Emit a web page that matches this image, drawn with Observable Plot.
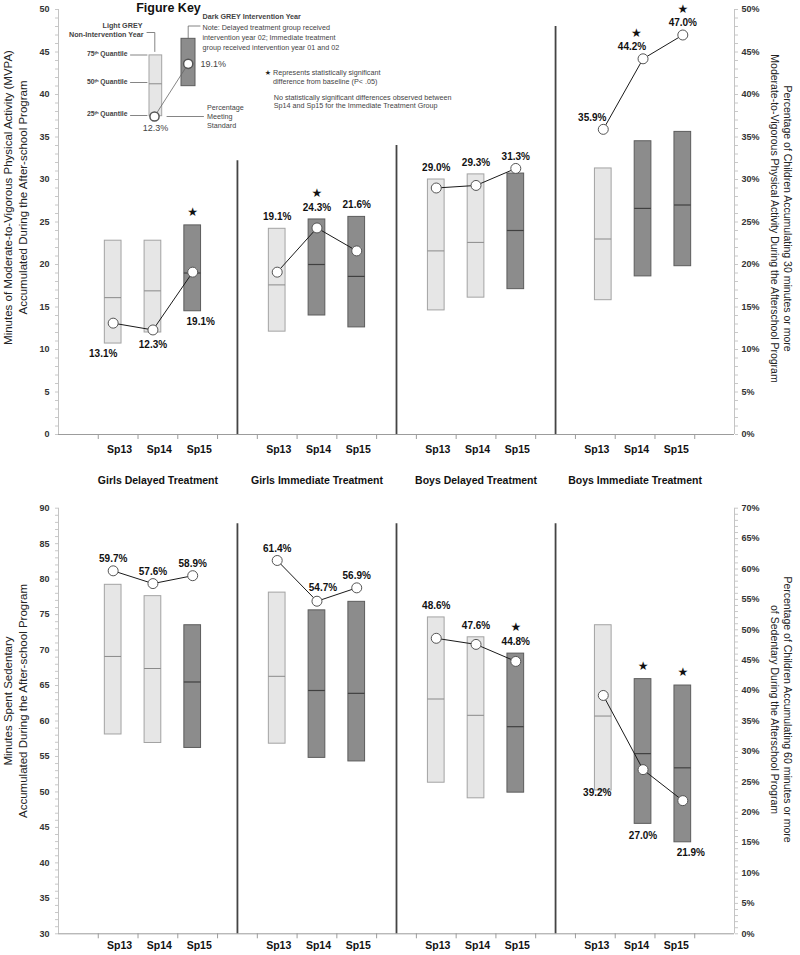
<!DOCTYPE html>
<html>
<head>
<meta charset="utf-8">
<script src="https://cdn.jsdelivr.net/npm/d3@7"></script>
<script src="https://cdn.jsdelivr.net/npm/@observablehq/plot@0.6"></script>
<style>
  html, body { margin: 0; padding: 0; background: #fff; }
  #wrap { position: relative; width: 800px; height: 955px; overflow: hidden; }
  #top, #bot { position: absolute; left: 0; }
  #top { top: 0; }
  #bot { top: 470px; }
  svg { overflow: visible; }
</style>
</head>
<body>
<div id="wrap"><div id="top"></div><div id="bot"></div></div>
<script>
// ---------------- DATA ----------------
const groups = ["Girls Delayed Treatment", "Girls Immediate Treatment", "Boys Delayed Treatment", "Boys Immediate Treatment"];
const seasons = ["Sp13", "Sp14", "Sp15"];
// dark grey = intervention year
const interventionYear = [[false, false, true], [false, true, true], [false, false, true], [false, true, true]];

// Minutes of MVPA (25th, 50th, 75th quantiles) and % meeting 30-min standard
const mvpaQ25 = [[10.7, 12.0, 14.5], [12.1, 14.0, 12.6], [14.6, 16.1, 17.1], [15.8, 18.6, 19.8]];
const mvpaMedian = [[16.1, 16.9, 19.0], [17.6, 20.0, 18.6], [21.6, 22.6, 24.0], [23.0, 26.6, 27.0]];
const mvpaQ75 = [[22.8, 22.8, 24.6], [24.2, 25.3, 25.6], [30.0, 30.6, 30.7], [31.3, 34.5, 35.6]];
const mvpaPctMeeting = [[13.1, 12.3, 19.1], [19.1, 24.3, 21.6], [29.0, 29.3, 31.3], [35.9, 44.2, 47.0]];
const mvpaSignificant = [[0, 0, 1], [0, 1, 0], [0, 0, 0], [0, 1, 1]];
const mvpaLabelPlace = [["below-left", "below", "below-right"], ["above", "above", "above"], ["above", "above", "above"], ["above-left", "above-left", "above"]];

// Minutes sedentary (25th, 50th, 75th quantiles) and % accumulating 60 min or more
const sedQ25 = [[58.1, 56.9, 56.2], [56.8, 54.8, 54.3], [51.3, 49.1, 49.9], [50.2, 45.5, 42.9]];
const sedMedian = [[69.1, 67.4, 65.5], [66.3, 64.3, 63.9], [63.1, 60.8, 59.2], [60.7, 55.4, 53.4]];
const sedQ75 = [[79.2, 77.6, 73.5], [78.1, 75.6, 76.8], [74.6, 71.8, 69.5], [73.5, 65.9, 65.0]];
const sedPct = [[59.7, 57.6, 58.9], [61.4, 54.7, 56.9], [48.6, 47.6, 44.8], [39.2, 27.0, 21.9]];
const sedSignificant = [[0, 0, 0], [0, 0, 0], [0, 0, 1], [0, 1, 1]];
const sedLabelPlace = [["above", "above", "above"], ["above", "above-right", "above"], ["above", "above", "above"], ["under-left", "below", "below-right"]];

// axis ticks
const mvpaTicks = [0, 5, 10, 15, 20, 25, 30, 35, 40, 45, 50];
const mvpaPctTicks = [0, 5, 10, 15, 20, 25, 30, 35, 40, 45, 50];
const sedTicks = [30, 35, 40, 45, 50, 55, 60, 65, 70, 75, 80, 85, 90];
const sedPctTicks = [0, 5, 10, 15, 20, 25, 30, 35, 40, 45, 50, 55, 60, 65, 70];

// panel divider heights (value where each divider line ends)
const mvpaDividerTop = [32.2, 34.0, 48.0];
const sedDividerTop = [87.8, 87.8, 87.8];

// Figure key example values
const keyLight = {q25: 37.45, med: 41.26, q75: 44.6, pct: "12.3%"};
const keyDark = {q25: 40.98, q75: 46.55, pct: "19.1%"};

// ---------------- STYLE ----------------
const FONT = "'Liberation Sans', Arial, Helvetica, sans-serif";
const LIGHT_FILL = "#e6e6e6", LIGHT_STROKE = "#a3a3a3", LIGHT_MED = "#8a8a8a";
const DARK_FILL = "#8c8c8c", DARK_STROKE = "#5c5c5c", DARK_MED = "#404040";
const HALF = 0.21;      // half bar width (slot units)
const NSLOTS = 17;
const PANEL_SHIFT = [-0.125, 0, 0, 0.2]; // small horizontal nudge of each panel's boxes (slot units)

const PLACE = {
  "above": {dx: 0, dy: -12, key: "top"},
  "above-left": {dx: -11, dy: -12, key: "top"},
  "above-right": {dx: 6, dy: -13, key: "top"},
  "below": {dx: 0, dy: 12, key: "q25"},
  "below-left": {dx: -10, dy: 10, key: "q25"},
  "below-right": {dx: 8, dy: 11, key: "q25"},
  "under-left": {dx: -6, dy: 2, key: "q25"}
};

function makeRows(q25, med, q75, pct, sig, place, pctToY) {
  const rows = [];
  groups.forEach((group, gi) => seasons.forEach((season, si) => {
    const py = pctToY(pct[gi][si]);
    rows.push({
      group, season, slot: gi * 4 + si + 1.5, x: gi * 4 + si + 1.5 + PANEL_SHIFT[gi],
      q25: q25[gi][si], med: med[gi][si], q75: q75[gi][si],
      pct: pct[gi][si], py, top: Math.max(q75[gi][si], py),
      sig: !!sig[gi][si], place: place[gi][si], dark: interventionYear[gi][si]
    });
  }));
  return rows;
}

function dataMarks(rows, seasonDy) {
  const light = rows.filter(d => !d.dark), dark = rows.filter(d => d.dark);
  const bx1 = d => d.x - HALF, bx2 = d => d.x + HALF;
  const marks = [
    Plot.rect(light, {x1: bx1, x2: bx2, y1: "q25", y2: "q75", fill: LIGHT_FILL, stroke: LIGHT_STROKE, strokeWidth: 1}),
    Plot.rect(dark, {x1: bx1, x2: bx2, y1: "q25", y2: "q75", fill: DARK_FILL, stroke: DARK_STROKE, strokeWidth: 1}),
    Plot.ruleY(light, {y: "med", x1: bx1, x2: bx2, stroke: LIGHT_MED, strokeWidth: 1}),
    Plot.ruleY(dark, {y: "med", x1: bx1, x2: bx2, stroke: DARK_MED, strokeWidth: 1.2}),
    Plot.line(rows, {x: "x", y: "py", z: "group", stroke: "#1a1a1a", strokeWidth: 1}),
    Plot.dot(rows, {x: "x", y: "py", r: 5, fill: "white", stroke: "#555", strokeWidth: 1}),
    Plot.text(rows, {x: "slot", text: "season", frameAnchor: "bottom", dx: 1.5, dy: seasonDy, fontWeight: "bold", fontSize: 10.5, fill: "#111"})
  ];
  for (const [name, p] of Object.entries(PLACE)) {
    const sub = rows.filter(d => d.place === name);
    if (!sub.length) continue;
    marks.push(Plot.text(sub, {x: "x", y: p.key, text: d => d.pct.toFixed(1) + "%", dx: p.dx, dy: p.dy, fontWeight: "bold", fontSize: 10, fill: "#111"}));
    const stars = sub.filter(d => d.sig);
    if (stars.length) marks.push(Plot.text(stars, {
      x: "x", y: "top", text: () => "★",
      dx: p.key === "top" ? p.dx * 0.6 : 0, dy: p.key === "top" ? p.dy - 14 : -13,
      fontSize: 12, fontFamily: "DejaVu Sans", fill: "#111"
    }));
  }
  return marks;
}

function frameMarks(y0, y1, ticks, pctTicks, pctToY, dividerTop) {
  const minor = d3.range(y0, y1 + 0.001, 1);
  const pctMinor = d3.range(0, d3.max(pctTicks) + 0.001, 1).map(pctToY);
  const pctPos = pctTicks.map(pctToY);
  const dividers = [1, 2, 3].map((k, i) => ({x: k * 4 + 0.5, top: dividerTop[i]}));
  return [
    Plot.ruleX([0, NSLOTS], {y1: y0, y2: y1, stroke: "#c4c4c4"}),
    Plot.ruleY([y0], {x1: 0, x2: NSLOTS, stroke: "#9c9c9c"}),
    Plot.axisX({ticks: d3.range(1, NSLOTS), tickSize: 5, tickFormat: () => "", color: "#9c9c9c", label: null}),
    Plot.axisY({ticks: minor, tickSize: 3, tickFormat: () => "", color: "#c8c8c8", label: null}),
    Plot.axisY({ticks, tickSize: 0, tickPadding: 9, fontWeight: "bold", fontSize: 9, color: "#333", label: null}),
    Plot.axisY({anchor: "right", ticks: pctMinor, tickSize: 3, tickFormat: () => "", color: "#c8c8c8", label: null}),
    Plot.axisY({anchor: "right", ticks: pctPos, tickSize: 0, tickPadding: 7,
      tickFormat: v => pctTicks[pctPos.findIndex(t => Math.abs(t - v) < 1e-6)] + "%",
      fontWeight: "bold", fontSize: 9, color: "#333", label: null}),
    Plot.ruleX(dividers, {x: "x", y1: y0, y2: "top", stroke: "#444", strokeWidth: 1.8})
  ];
}

// ---------------- TOP CHART (MVPA) ----------------
const mvpaToY = p => p;
const mvpaRows = makeRows(mvpaQ25, mvpaMedian, mvpaQ75, mvpaPctMeeting, mvpaSignificant, mvpaLabelPlace, mvpaToY);

// key helpers: pixel layout of the key inside the top frame
const SW = 676 / NSLOTS;
const kx = px => (px - 58) / SW;
const ky = py => (434 - py) / 8.5;
const KEYC = "#444";
function keyText(str, px, py, o = {}) {
  return Plot.text([str], {x: kx(px), y: ky(py), text: d => d, fontSize: 7.2, fill: KEYC, ...o});
}
function keyPath(points) {
  return Plot.line(points.map(([a, b]) => ({x: kx(a), y: ky(b)})), {x: "x", y: "y", stroke: "#666", strokeWidth: 0.8});
}
const keyMarks = [
  keyText("Figure Key", 168, 7, {fontWeight: "bold", fontSize: 12.5, fill: "#111"}),
  Plot.rect([keyLight], {x1: kx(149), x2: kx(161.7), y1: "q25", y2: "q75", fill: LIGHT_FILL, stroke: LIGHT_STROKE}),
  Plot.ruleY([keyLight], {y: "med", x1: kx(149), x2: kx(161.7), stroke: LIGHT_MED}),
  Plot.rect([keyDark], {x1: kx(181), x2: kx(195), y1: "q25", y2: "q75", fill: DARK_FILL, stroke: DARK_STROKE}),
  keyPath([[154, 116], [187.7, 63.3]]),
  Plot.dot([{x: kx(154), y: ky(116)}, {x: kx(187.7), y: ky(63.3)}], {x: "x", y: "y", r: 4.6, fill: "white", stroke: "#555"}),
  keyText(keyLight.pct, 155, 127.5, {fontSize: 9}),
  keyText(keyDark.pct, 200, 63.5, {fontSize: 9, textAnchor: "start"}),
  keyText("Light GREY", 142, 25, {textAnchor: "end", fontWeight: "bold"}),
  keyText("Non-Intervention Year", 143, 34, {textAnchor: "end", fontWeight: "bold"}),
  keyPath([[146.5, 32], [154.3, 32], [154.3, 51]]),
  keyText("75ᵗʰ Quantile", 127, 53.5, {textAnchor: "end", fontWeight: "bold", fontSize: 6.8}),
  keyText("50ᵗʰ Quantile", 127, 81.7, {textAnchor: "end", fontWeight: "bold", fontSize: 6.8}),
  keyText("25ᵗʰ Quantile", 127, 113.5, {textAnchor: "end", fontWeight: "bold", fontSize: 6.8}),
  keyPath([[130, 54.5], [146.5, 54.5]]),
  keyPath([[130, 82], [146.5, 82]]),
  keyPath([[130, 115], [146.5, 115]]),
  keyPath([[166.5, 116], [203, 116]]),
  keyText("Percentage\nMeeting\nStandard", 206.5, 115.7, {textAnchor: "start", lineHeight: 1.2}),
  keyText("Dark GREY Intervention Year", 202, 15.7, {textAnchor: "start", fontWeight: "bold"}),
  keyPath([[187.7, 38], [187.7, 25.5], [199.5, 25.5]]),
  keyText("Note: Delayed treatment group received\nintervention year 02; Immediate treatment\ngroup received intervention year 01 and 02", 202, 36, {textAnchor: "start", lineHeight: 1.42}),
  keyText("★", 267.5, 72, {fontFamily: "DejaVu Sans", fontSize: 7, fill: "#222"}),
  keyText("Represents statistically significant\ndifference from baseline (P< .05)", 272.5, 76.3, {textAnchor: "start", lineHeight: 1.2}),
  keyText("No statistically significant differences observed between\nSp14 and Sp15 for the Immediate Treatment Group", 273.3, 100.8, {textAnchor: "start", lineHeight: 1.15})
];

const topPlot = Plot.plot({
  width: 800, height: 470,
  marginTop: 9, marginBottom: 36, marginLeft: 58, marginRight: 66,
  x: {domain: [0, NSLOTS]},
  y: {domain: [0, 50]},
  style: {fontFamily: FONT, fontSize: "10px", color: "#222", background: "white"},
  marks: [
    ...frameMarks(0, 50, mvpaTicks, mvpaPctTicks, mvpaToY, mvpaDividerTop),
    ...dataMarks(mvpaRows, 18),
    ...keyMarks,
    Plot.text(["Minutes of Moderate-to-Vigorous Physical Activity (MVPA)\nAccumulated During the After-school Program"],
      {frameAnchor: "left", textAnchor: "middle", rotate: -90, dx: -43.5, dy: -24.5, fontSize: 11.5, lineHeight: 1.3, fill: "#222"}),
    Plot.text(["Percentage of Children Accumulating 30 minutes or more\nModerate-to-Vigorous Physical Activity During the Afterschool Program"],
      {frameAnchor: "right", textAnchor: "middle", rotate: 90, dx: 47, dy: -3.5, fontSize: 10.5, lineHeight: 1.25, fill: "#222"})
  ]
});
document.getElementById("top").append(topPlot);

// ---------------- BOTTOM CHART (Sedentary) ----------------
const sedToY = p => 30 + p * 60 / 70;
const sedRows = makeRows(sedQ25, sedMedian, sedQ75, sedPct, sedSignificant, sedLabelPlace, sedToY);

const botPlot = Plot.plot({
  width: 800, height: 485,
  marginTop: 37.7, marginBottom: 21.7, marginLeft: 58, marginRight: 66,
  x: {domain: [0, NSLOTS]},
  y: {domain: [30, 90]},
  style: {fontFamily: FONT, fontSize: "10px", color: "#222", background: "white"},
  marks: [
    ...frameMarks(30, 90, sedTicks, sedPctTicks, sedToY, sedDividerTop),
    ...dataMarks(sedRows, 15),
    Plot.text(groups, {x: (d, i) => i * 4 + 2.5, text: d => d, frameAnchor: "top", dy: 6 - 37.7, fontWeight: "bold", fontSize: 10.5, fill: "#111"}),
    Plot.text(["Minutes Spent Sedentary\nAccumulated During the After-school Program"],
      {frameAnchor: "left", textAnchor: "middle", rotate: -90, dx: -43.5, dy: -20, fontSize: 11.5, lineHeight: 1.3, fill: "#222"}),
    Plot.text(["Percentage of Children Accumulating 60 minutes or more\nof Sedentary During the Afterschool Program"],
      {frameAnchor: "right", textAnchor: "middle", rotate: 90, dx: 47, dy: -11.5, fontSize: 10.5, lineHeight: 1.25, fill: "#222"})
  ]
});
document.getElementById("bot").append(botPlot);
</script>
</body>
</html>
